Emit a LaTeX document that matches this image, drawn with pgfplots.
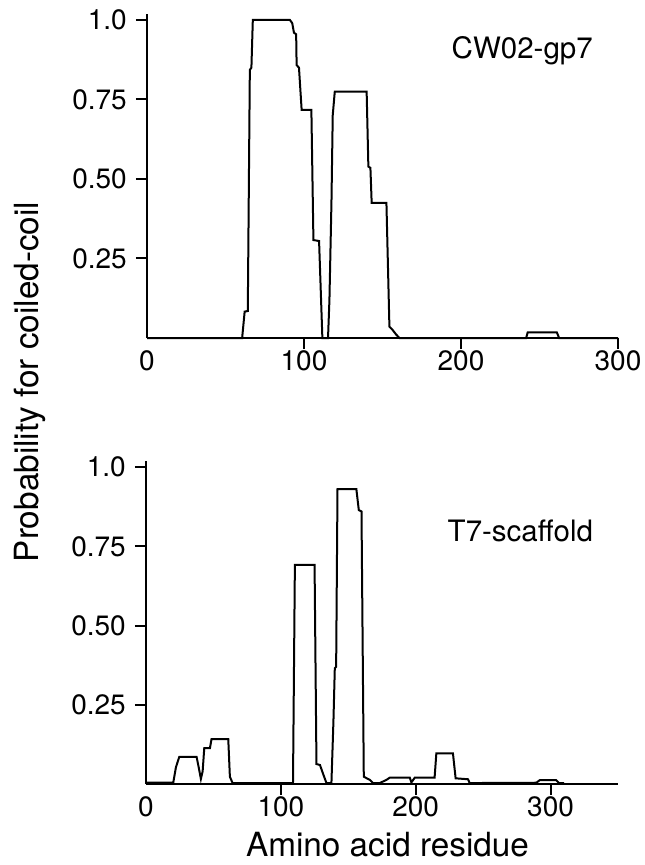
\documentclass[border=0pt]{standalone}
\usepackage{fontspec}
\setmainfont{TeX Gyre Heros}
\usepackage{pgfplots}
\pgfplotsset{compat=1.18}
\usepackage{pgfplotstable}

\pgfplotstableread{
x y
0 0
60.6 0
62.2 0.083
64.2 0.085
65.5 0.843
66.5 0.85
67.4 1.0
91.0 1.0
92.5 0.99
93.6 0.96
95.0 0.955
95.3 0.858
96.8 0.85
98.5 0.717
104.7 0.717
106.0 0.308
109.6 0.305
111.7 0
115.3 0
116.2 0.12
117.5 0.43
118.3 0.70
119.6 0.775
139.9 0.775
141.0 0.539
142.3 0.535
143.1 0.425
152.5 0.425
154.4 0.036
156.5 0.025
158.5 0.012
160.8 0
241.5 0
242.5 0.018
261.0 0.018
262.5 0
300 0
}\gpseven

\pgfplotstableread{
x y
0 0.004
20.2 0.004
22.2 0.053
24.7 0.086
37.5 0.086
39.2 0.05
40.7 0.016
42.0 0.04
43.2 0.113
47.4 0.113
48.6 0.142
61.0 0.142
62.2 0.023
64.2 0.003
109.0 0.003
110.4 0.691
125.0 0.691
126.4 0.063
129.0 0.06
131.5 0.03
133.8 0.003
137.5 0.003
139.0 0.2
140.0 0.365
141.0 0.37
142.0 0.93
156.0 0.93
157.8 0.864
159.8 0.86
161.5 0.023
166.0 0.013
168.4 0.003
173.3 0.003
178.3 0.013
180.7 0.02
195.6 0.02
196.8 0.005
199.3 0.02
214.0 0.02
215.3 0.097
227.6 0.097
229.6 0.018
238.8 0.015
240.0 0.003
289.4 0.004
291.9 0.012
304.2 0.012
306.2 0.003
310 0.003
}\tseven

\pgfplotsset{
  myaxis/.style={
    scale only axis,
    axis lines=left,
    axis line style={-, line width=2.3pt},
    tick style={line width=2pt, black},
    tick align=outside,
    major tick length=11pt,
    ymin=0, ymax=1.02,
    xmin=0,
    xtick={100,200,300},
    extra x ticks={0},
    extra x tick style={tick style={draw=none}},
    ytick={0.25,0.5,0.75,1},
    yticklabels={0.25,0.50,0.75,1.0},
    /pgf/number format/assume math mode=true,
    tick label style={font=\fontsize{28}{32}\selectfont},
    yticklabel style={inner sep=0pt, xshift=-9pt},
    xticklabel style={inner sep=0pt, yshift=-1pt},
    clip=false,
  }
}

\begin{document}
\begin{tikzpicture}[x=1pt,y=1pt]
\useasboundingbox (0,0) rectangle (645,-865);

\begin{axis}[myaxis,
  at={(147pt,-338pt)}, anchor=south west,
  width=471pt, height=324.4pt,
  xmax=300]
\addplot[black, line width=2pt, sharp plot, no marks] table[x=x,y=y] {\gpseven};
\node[anchor=base, font=\fontsize{29.5}{34}\selectfont] at (axis cs:239,0.88) {CW02-gp7};
\end{axis}

\begin{axis}[myaxis,
  at={(146pt,-784pt)}, anchor=south west,
  width=472pt, height=323.3pt,
  xmax=350]
\addplot[black, line width=2pt, sharp plot, no marks] table[x=x,y=y] {\tseven};
\node[anchor=base, font=\fontsize{29.5}{34}\selectfont] at (axis cs:277.6,0.764) {T7-scaffold};
\end{axis}

\node[rotate=90, anchor=base, font=\fontsize{33.3}{38}\selectfont, inner sep=0pt] at (38,-382) {Probability for coiled-coil};
\node[anchor=base, font=\fontsize{33.3}{38}\selectfont, inner sep=0pt] at (387.5,-856.5) {Amino acid residue};
\end{tikzpicture}
\end{document}
